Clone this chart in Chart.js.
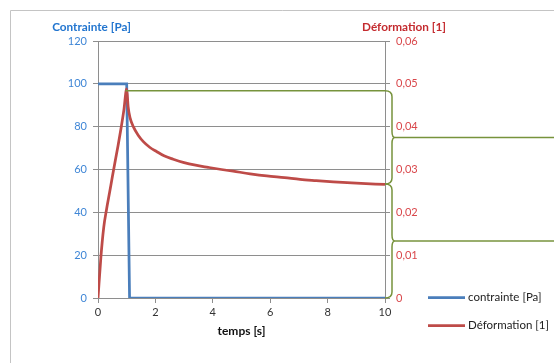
<!DOCTYPE html>
<html><head><meta charset="utf-8">
<script src="https://cdn.jsdelivr.net/npm/chart.js@4.4.1/dist/chart.umd.min.js"></script>
<style>html,body{margin:0;padding:0;background:#fff}#wrap{width:554px;height:363px;position:relative}</style>
</head><body><div id="wrap"><canvas id="c" width="554" height="363"></canvas></div>
<script>
// ---- data ----
const stressTime = [0, 1, 1.1, 10];
const stressValues = [100, 100, 0, 0];
const strainTime = [0, 0.1, 0.2, 0.3, 0.4, 0.5, 0.6, 0.7, 0.8, 0.9, 1.0, 1.05, 1.12, 1.23, 1.4, 1.58, 1.8, 2.04, 2.3, 2.62, 3.0, 3.4, 3.84, 4.3, 4.71, 5.3, 5.88, 6.5, 7.04, 7.6, 8.2, 9.0, 10];
const strainValues = [0, 0.0095, 0.0165, 0.0208, 0.0245, 0.0283, 0.032, 0.0356, 0.0395, 0.0438, 0.0488, 0.0446, 0.0420, 0.0400, 0.0380, 0.0365, 0.0352, 0.0342, 0.0332, 0.0324, 0.0316, 0.0310, 0.0305, 0.0300, 0.0296, 0.0290, 0.0285, 0.0281, 0.0277, 0.0274, 0.0271, 0.0268, 0.0265];
const xTicks = [0, 2, 4, 6, 8, 10];
const leftTicks = [0, 20, 40, 60, 80, 100, 120];
const rightTicks = [0, 0.01, 0.02, 0.03, 0.04, 0.05, 0.06];
const rightTickLabels = ['0', '0,01', '0,02', '0,03', '0,04', '0,05', '0,06'];
const seriesLabels = ['contrainte [Pa]', 'Déformation [1]'];
const axisTitles = ['Contrainte [Pa]', 'Déformation [1]', 'temps [s]'];
const braceLevels = [0.0484, 0.0266, 0];   // strain levels bounding the two braces
const peakLineStart = 0.95;                 // time where the olive reference line starts

const FONT = 'Lato';
const BLUE = '#4A7EBB', RED = '#BE4B48', OLIVE = '#77933C', GRID = '#8E8E8E';

const decorPlugin = {
  id: 'decor',
  beforeDraw(chart) {
    const ctx = chart.ctx;
    ctx.save();
    ctx.fillStyle = '#fff';
    ctx.fillRect(0, 0, chart.width, chart.height);
    ctx.strokeStyle = '#C4C4C4';
    ctx.lineWidth = 1;
    ctx.beginPath();
    ctx.moveTo(10.5, chart.height + 5);
    ctx.lineTo(10.5, 10.5);
    ctx.lineTo(chart.width + 5, 10.5);
    ctx.stroke();
    // axis titles above the axes
    ctx.font = 'bold 11.75px ' + FONT;
    ctx.textAlign = 'center';
    ctx.textBaseline = 'middle';
    ctx.fillStyle = '#2275CF';
    ctx.fillText(axisTitles[0], 91.5, 27);
    ctx.fillStyle = '#C42B2F';
    ctx.fillText(axisTitles[1], 404, 27);
    ctx.restore();
  },
  afterDatasetsDraw(chart) {
    const ctx = chart.ctx, x = chart.scales.x, y1 = chart.scales.y1;
    const xr = x.getPixelForValue(10);
    ctx.save();
    ctx.strokeStyle = OLIVE;
    ctx.lineWidth = 1.5;
    ctx.beginPath();
    const yTop = y1.getPixelForValue(braceLevels[0]);
    ctx.moveTo(x.getPixelForValue(peakLineStart), yTop);
    ctx.lineTo(xr, yTop);
    ctx.stroke();
    const bx = xr + 7, r = 6;
    for (let i = 0; i < braceLevels.length - 1; i++) {
      const yT = y1.getPixelForValue(braceLevels[i]);
      const yB = y1.getPixelForValue(braceLevels[i + 1]);
      const yM = (yT + yB) / 2;
      ctx.beginPath();
      ctx.moveTo(xr, yT);
      ctx.quadraticCurveTo(bx, yT, bx, yT + r);
      ctx.lineTo(bx, yM - r);
      ctx.quadraticCurveTo(bx, yM, bx + 3, yM);
      ctx.quadraticCurveTo(bx, yM, bx, yM + r);
      ctx.lineTo(bx, yB - r);
      ctx.quadraticCurveTo(bx, yB, xr, yB);
      ctx.stroke();
      ctx.beginPath();
      ctx.moveTo(bx + 3, yM);
      ctx.lineTo(chart.width + 5, yM);
      ctx.stroke();
    }
    // legend
    ctx.font = '11.5px ' + FONT;
    ctx.textAlign = 'left';
    ctx.textBaseline = 'middle';
    chart.data.datasets.forEach((ds, i) => {
      const ly = 297.5 + i * 28;
      ctx.strokeStyle = ds.borderColor;
      ctx.lineWidth = 2.75;
      ctx.beginPath();
      ctx.moveTo(428, ly);
      ctx.lineTo(465, ly);
      ctx.stroke();
      ctx.fillStyle = '#222';
      ctx.fillText(ds.label, 468, ly);
    });
    ctx.restore();
  }
};

const tickSetter = (arr) => (scale) => { scale.ticks = arr.map(v => ({ value: v })); };

new Chart(document.getElementById('c'), {
  type: 'line',
  data: {
    datasets: [
      {
        label: seriesLabels[0],
        data: stressTime.map((t, i) => ({ x: t, y: stressValues[i] })),
        borderColor: BLUE, backgroundColor: BLUE, borderWidth: 2.75,
        pointRadius: 0, tension: 0, yAxisID: 'y', order: 1
      },
      {
        label: seriesLabels[1],
        data: strainTime.map((t, i) => ({ x: t, y: strainValues[i] })),
        borderColor: RED, backgroundColor: RED, borderWidth: 2.75,
        pointRadius: 0, cubicInterpolationMode: 'monotone', yAxisID: 'y1', order: 0
      }
    ]
  },
  options: {
    responsive: false, animation: false, devicePixelRatio: 1,
    layout: { padding: { left: 10, top: 41, right: 135, bottom: 15 } },
    plugins: {
      tooltip: { enabled: false },
      legend: { display: false }
    },
    scales: {
      x: {
        type: 'linear', min: 0, max: 10,
        afterBuildTicks: tickSetter(xTicks),
        afterFit: (s) => { s.height = 50; },
        grid: { drawOnChartArea: false, color: GRID, tickLength: 5 },
        border: { color: GRID },
        ticks: { font: { family: FONT, size: 11 }, color: '#333', padding: 3, maxRotation: 0 },
        title: { display: true, text: axisTitles[2], font: { family: FONT, size: 12, weight: 'bold' }, color: '#111', padding: { top: 4, bottom: 10 } }
      },
      y: {
        position: 'left', min: 0, max: 120,
        afterBuildTicks: tickSetter(leftTicks),
        afterFit: (s) => { s.width = 88; },
        grid: { color: GRID, tickLength: 5 },
        border: { color: GRID },
        ticks: { font: { family: FONT, size: 11 }, color: '#3F86D6', padding: 6 }
      },
      y1: {
        position: 'right', min: 0, max: 0.06,
        afterBuildTicks: tickSetter(rightTicks),
        afterFit: (s) => { s.width = 34; },
        grid: { drawOnChartArea: false, color: GRID, tickLength: 5 },
        border: { color: GRID },
        ticks: { font: { family: FONT, size: 11 }, color: '#D9474B', padding: 6,
          callback: (v, i) => rightTickLabels[i] }
      }
    }
  },
  plugins: [decorPlugin]
});
</script>
</body></html>
